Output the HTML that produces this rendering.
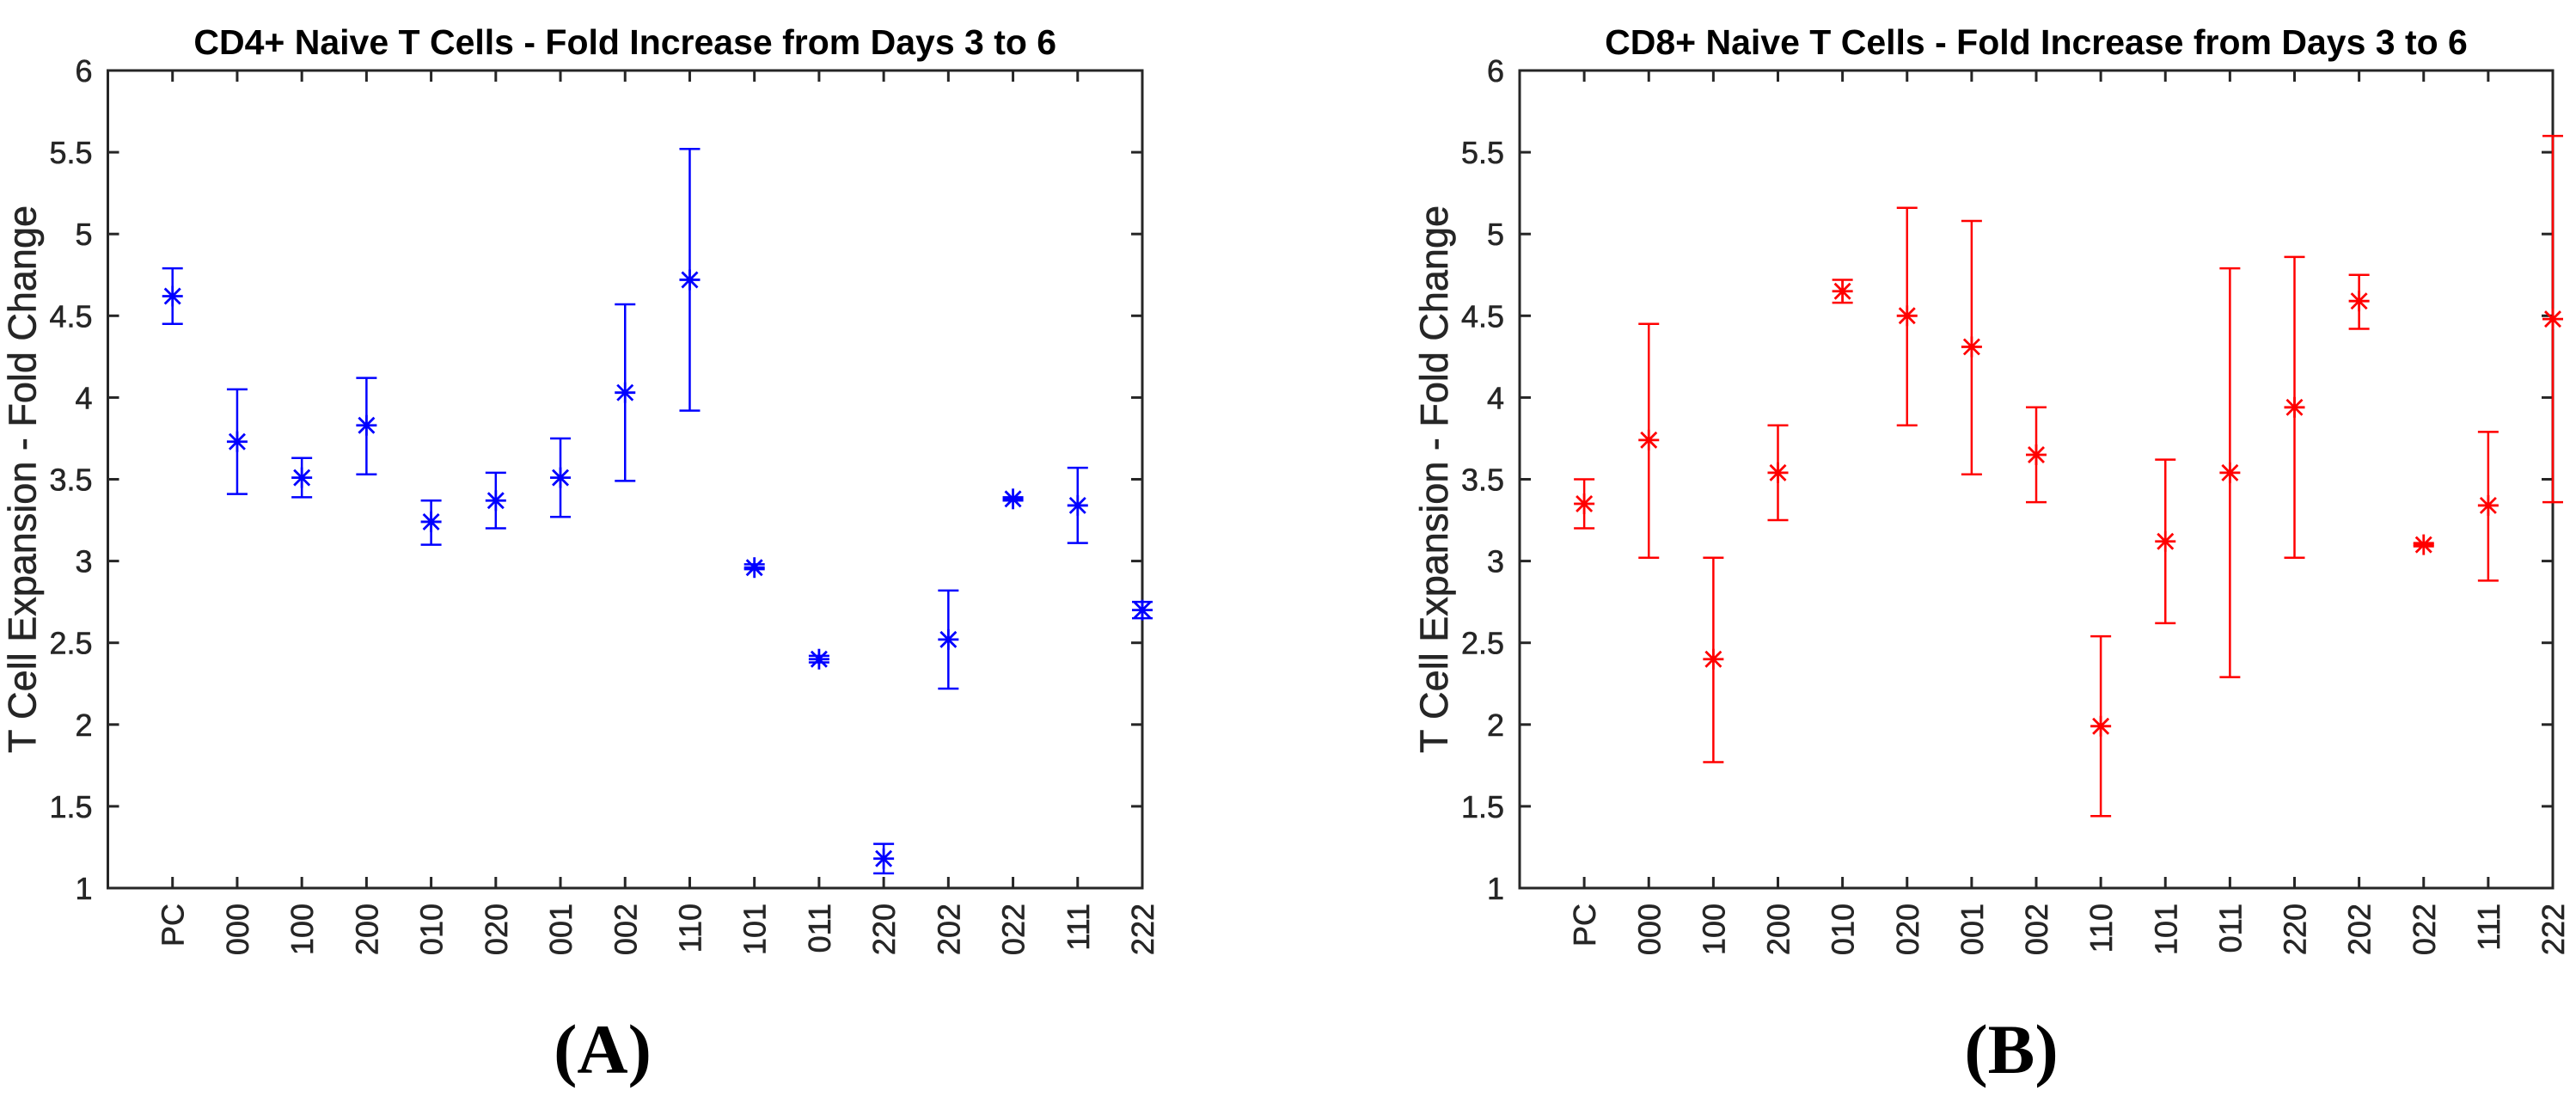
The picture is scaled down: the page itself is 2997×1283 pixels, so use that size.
<!DOCTYPE html>
<html><head><meta charset="utf-8">
<style>
html,body{margin:0;padding:0;background:#fff;}
svg{display:block;}
</style></head>
<body>
<svg id="chart" width="2997" height="1283" xmlns="http://www.w3.org/2000/svg" font-family="Liberation Sans, Arial, sans-serif"></svg>
<script>
const categories = ["PC","000","100","200","010","020","001","002","110","101","011","220","202","022","111","222"];
const cd4Means = [4.62,3.73,3.51,3.83,3.24,3.37,3.51,4.03,4.72,2.96,2.40,1.18,2.52,3.38,3.34,2.70];
const cd4Low   = [4.45,3.41,3.39,3.53,3.10,3.20,3.27,3.49,3.92,2.95,2.38,1.09,2.22,3.37,3.11,2.65];
const cd4High  = [4.79,4.05,3.63,4.12,3.37,3.54,3.75,4.57,5.52,2.98,2.42,1.27,2.82,3.39,3.57,2.75];
const cd8Means = [3.35,3.74,2.40,3.54,4.65,4.50,4.31,3.65,1.99,3.12,3.54,3.94,4.59,3.10,3.34,4.48];
const cd8Low   = [3.20,3.02,1.77,3.25,4.58,3.83,3.53,3.36,1.44,2.62,2.29,3.02,4.42,3.09,2.88,3.36];
const cd8High  = [3.50,4.45,3.02,3.83,4.72,5.16,5.08,3.94,2.54,3.62,4.79,4.86,4.75,3.11,3.79,5.60];
const yTicks = [1,1.5,2,2.5,3,3.5,4,4.5,5,5.5,6];
const yTickLabels = ["1","1.5","2","2.5","3","3.5","4","4.5","5","5.5","6"];

const NS="http://www.w3.org/2000/svg";
const svg=document.getElementById('chart');
function el(tag,attrs,parent){const e=document.createElementNS(NS,tag);for(const k in attrs)e.setAttribute(k,attrs[k]);(parent||svg).appendChild(e);return e;}

function panel(cfg){
  const g=el('g',{});
  
  
  const L=cfg.left,R=cfg.right,T=82,B=1033;
  const xS=i=>L+(i+1)*(R-L)/16;
  const yS=v=>B-(v-1)*(B-T)/5;
  const ax='#262626';
  const t=el('text',{x:(L+R)/2,y:63,'text-anchor':'middle','font-size':41,'font-weight':'bold',fill:'#000'},g);
  t.textContent=cfg.title;
  
  
  const yl=el('text',{transform:`translate(${L-84},${(T+B)/2}) rotate(-90)`,'text-anchor':'middle','font-size':45,fill:ax,stroke:ax,'stroke-width':0.6},g);
  yl.textContent='T Cell Expansion - Fold Change';
  
  
  yTicks.forEach((v,i)=>{
    const y=yS(v);
    el('line',{x1:L,x2:L+13,y1:y,y2:y,stroke:ax,'stroke-width':3},g);
    el('line',{x1:R,x2:R-13,y1:y,y2:y,stroke:ax,'stroke-width':3},g);
    const tx=el('text',{x:L-18,y:y+13,'text-anchor':'end','font-size':36,fill:ax,stroke:ax,'stroke-width':0.6},g);
    tx.textContent=yTickLabels[i];
    
    
  });
  categories.forEach((c,i)=>{
    const x=xS(i);
    el('line',{x1:x,x2:x,y1:B,y2:B-13,stroke:ax,'stroke-width':3},g);
    el('line',{x1:x,x2:x,y1:T,y2:T+13,stroke:ax,'stroke-width':3},g);
    const tx=el('text',{transform:`translate(${x+13},${B+18}) rotate(-90)`,'text-anchor':'end','font-size':36,fill:ax,stroke:ax,'stroke-width':0.6},g);
    tx.textContent=c;
    
    
  });
  const fr=el('rect',{x:L,y:T,width:R-L,height:B-T,fill:'none',stroke:ax,'stroke-width':3},g);
  
  
  const c=cfg.color;
  cfg.means.forEach((m,i)=>{
    const x=xS(i),yl=yS(cfg.low[i]),yh=yS(cfg.high[i]),ym=yS(m);
    const eg=el('g',{stroke:c,'stroke-width':2.5,fill:'none'},g);
    
    
    el('line',{x1:x,x2:x,y1:yl,y2:yh},eg);
    el('line',{x1:x-12,x2:x+12,y1:yl,y2:yl},eg);
    el('line',{x1:x-12,x2:x+12,y1:yh,y2:yh},eg);
    const mk=el('g',{stroke:c,'stroke-width':2.8},g);
    
    
    const s=12,d=9;
    el('line',{x1:x-s,x2:x+s,y1:ym,y2:ym},mk);
    el('line',{x1:x,x2:x,y1:ym-s,y2:ym+s},mk);
    el('line',{x1:x-d,x2:x+d,y1:ym-d,y2:ym+d},mk);
    el('line',{x1:x-d,x2:x+d,y1:ym+d,y2:ym-d},mk);
  });
  const pl=el('text',{x:cfg.labelX,y:1248,'text-anchor':'middle','font-size':82,'font-weight':'bold','font-family':'Liberation Serif, Times New Roman, serif',fill:'#000'},g);
  pl.textContent=cfg.panel;
  
  
}
panel({name:'cd4-chart',left:125.5,right:1329,title:'CD4+ Naive T Cells - Fold Increase from Days 3 to 6',means:cd4Means,low:cd4Low,high:cd4High,color:'#0000ff',panel:'(A)',labelX:701});
panel({name:'cd8-chart',left:1768,right:2970,title:'CD8+ Naive T Cells - Fold Increase from Days 3 to 6',means:cd8Means,low:cd8Low,high:cd8High,color:'#ff0000',panel:'(B)',labelX:2340});
</script>
</body></html>
